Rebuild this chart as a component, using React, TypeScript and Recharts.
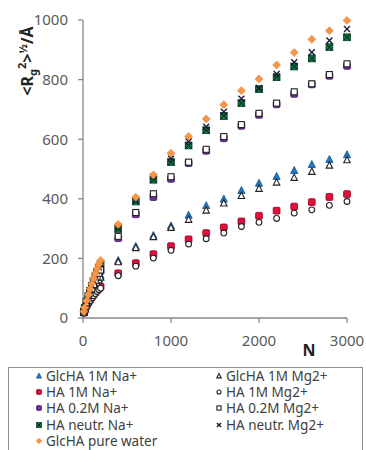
import React from "react";
import { ScatterChart, Scatter, XAxis, YAxis } from "recharts";

// chain length N (shared by every series)
const N_VALUES = [
  10, 20, 40, 60, 80, 100, 120, 140, 160, 180, 200,
  400, 600, 800, 1000, 1200, 1400, 1600, 1800, 2000, 2200, 2400, 2600, 2800, 3000,
];

const GLCHA_1M_NA = [20, 30, 47, 62, 76, 89, 101, 112, 123, 133, 142, 193, 240, 277, 309, 345, 377, 399, 428, 452, 475, 495, 515, 532, 548];
const GLCHA_1M_MG = [19, 29, 45, 59, 72, 85, 96, 107, 117, 127, 136, 188, 235, 272, 303, 330, 361, 385, 410, 434, 455, 471, 491, 512, 530];
const HA_1M_NA = [18, 26, 40, 51, 61, 70, 78, 86, 93, 99, 105, 150, 184, 214, 241, 264, 285, 304, 324, 343, 360, 374, 389, 406, 416];
const HA_1M_MG = [17, 25, 38, 49, 58, 67, 75, 82, 89, 95, 100, 142, 174, 201, 227, 248, 266, 285, 307, 321, 334, 352, 363, 378, 391];
const HA_02M_NA = [20, 31, 50, 67, 82, 96, 110, 123, 135, 147, 158, 268, 348, 406, 467, 520, 561, 603, 645, 682, 717, 752, 784, 813, 846];
const HA_02M_MG = [20, 32, 51, 68, 84, 98, 112, 125, 138, 150, 161, 274, 354, 417, 474, 523, 566, 609, 649, 687, 721, 759, 786, 817, 853];
const HA_NEUTR_NA = [21, 33, 54, 73, 91, 108, 124, 140, 155, 168, 181, 299, 391, 464, 523, 579, 630, 678, 721, 768, 808, 844, 871, 909, 942];
const HA_NEUTR_MG = [21, 33, 55, 74, 92, 109, 126, 142, 157, 170, 183, 307, 397, 475, 534, 592, 642, 692, 736, 772, 819, 858, 892, 931, 970];
const GLCHA_WATER = [22, 35, 58, 78, 97, 115, 133, 150, 166, 180, 193, 314, 405, 480, 553, 609, 668, 716, 763, 802, 849, 891, 935, 964, 998];

const X_TICKS = [0, 1000, 2000, 3000];
const Y_TICKS = [0, 200, 400, 600, 800, 1000];

const toPoints = (vals: number[]) => N_VALUES.map((n, i) => ({ n, v: vals[i] }));

type M = { cx: number; cy: number; s?: number };

const FilledTri = ({ cx, cy, s = 1 }: M) => {
  const r = 4 * s;
  return (
    <polygon
      points={`${cx},${cy - r} ${cx + r * 0.9},${cy + r * 0.75} ${cx - r * 0.9},${cy + r * 0.75}`}
      fill="#1f7bc8"
      stroke="#134d86"
      strokeWidth={0.8}
    />
  );
};
const OpenTri = ({ cx, cy, s = 1 }: M) => {
  const r = 3.6 * s;
  return (
    <polygon
      points={`${cx},${cy - r} ${cx + r * 0.9},${cy + r * 0.75} ${cx - r * 0.9},${cy + r * 0.75}`}
      fill="#fff"
      stroke="#222"
      strokeWidth={1.1}
    />
  );
};
const Square = ({ cx, cy, s = 1, fill, stroke }: M & { fill: string; stroke: string }) => {
  const r = 3.4 * s;
  return <rect x={cx - r} y={cy - r} width={2 * r} height={2 * r} rx={1.2 * s} fill={fill} stroke={stroke} strokeWidth={0.8} />;
};
const RedSq = (p: M) => <Square {...p} fill="#e0103a" stroke="#8b0020" />;
const PurpleSq = (p: M) => <Square {...p} fill="#7030a0" stroke="#3a1760" />;
const OpenSq = ({ cx, cy, s = 1 }: M) => {
  const r = 3 * s;
  return <rect x={cx - r} y={cy - r} width={2 * r} height={2 * r} fill="#fff" stroke="#222" strokeWidth={1.1} />;
};
const OpenCircle = ({ cx, cy, s = 1 }: M) => <circle cx={cx} cy={cy} r={2.9 * s} fill="#fff" stroke="#222" strokeWidth={1.1} />;
const GreenX = ({ cx, cy, s = 1 }: M) => {
  const r = 3.4 * s;
  return (
    <g>
      <rect x={cx - r} y={cy - r} width={2 * r} height={2 * r} fill="#0b7a46" stroke="#053b22" strokeWidth={0.8} />
      <path d={`M${cx - r},${cy - r}L${cx + r},${cy + r}M${cx + r},${cy - r}L${cx - r},${cy + r}`} stroke="#0a1a12" strokeWidth={1} />
    </g>
  );
};
const Cross = ({ cx, cy, s = 1 }: M) => {
  const r = 3 * s;
  return <path d={`M${cx - r},${cy - r}L${cx + r},${cy + r}M${cx + r},${cy - r}L${cx - r},${cy + r}`} stroke="#1b1b3a" strokeWidth={1.4} />;
};
const Diamond = ({ cx, cy, s = 1 }: M) => {
  const r = 4 * s;
  return <polygon points={`${cx},${cy - r} ${cx + r},${cy} ${cx},${cy + r} ${cx - r},${cy}`} fill="#f79646" stroke="#e9823a" strokeWidth={0.6} />;
};

// drawing order: filled ones first, open (Mg2+) markers over them, pure water last
const SERIES = [
  { name: "GlcHA 1M Na+", values: GLCHA_1M_NA, Mark: FilledTri },
  { name: "HA 1M Na+", values: HA_1M_NA, Mark: RedSq },
  { name: "HA 0.2M Na+", values: HA_02M_NA, Mark: PurpleSq },
  { name: "HA neutr. Na+", values: HA_NEUTR_NA, Mark: GreenX },
  { name: "GlcHA 1M Mg2+", values: GLCHA_1M_MG, Mark: OpenTri },
  { name: "HA 1M Mg2+", values: HA_1M_MG, Mark: OpenCircle },
  { name: "HA 0.2M Mg2+", values: HA_02M_MG, Mark: OpenSq },
  { name: "HA neutr. Mg2+", values: HA_NEUTR_MG, Mark: Cross },
  { name: "GlcHA pure water", values: GLCHA_WATER, Mark: Diamond },
];

const LEGEND_COL1 = ["GlcHA 1M Na+", "HA 1M Na+", "HA 0.2M Na+", "HA neutr. Na+", "GlcHA pure water"];
const LEGEND_COL2 = ["GlcHA 1M Mg2+", "HA 1M Mg2+", "HA 0.2M Mg2+", "HA neutr. Mg2+"];

const axisColor = "#888";
const tickStyle = { fill: "#595959", fontSize: 15, fontFamily: "Noto Sans" };

const YTitle = (props: any) => {
  const vb = props.viewBox;
  const x0 = vb.x + 10;
  const y0 = vb.y + 41;
  return (
    <text
      transform={`rotate(-90 ${x0} ${y0})`}
      x={x0}
      y={y0}
      textAnchor="middle"
      fontWeight="bold"
      fontSize={16}
      fontFamily="Noto Sans"
      fill="#222"
    >
      &lt;R
      <tspan dy={4} fontSize={11}>g</tspan>
      <tspan dy={-11} fontSize={11}>2</tspan>
      <tspan dy={7}>&gt;</tspan>
      <tspan dy={-6} fontSize={11}>½</tspan>
      <tspan dy={6}>/Å</tspan>
    </text>
  );
};

const XTitle = (props: any) => {
  const vb = props.viewBox;
  return (
    <text x={vb.x + vb.width - 38} y={vb.y + 38} textAnchor="middle" fontWeight="bold" fontSize={16} fontFamily="Noto Sans" fill="#222">
      N
    </text>
  );
};

function LegendItem({ name, left, top }: { name: string; left: number; top: number }) {
  const s = SERIES.find((x) => x.name === name)!;
  const Mark = s.Mark;
  return (
    <div style={{ position: "absolute", left, top, height: 17, display: "flex", alignItems: "center", whiteSpace: "nowrap" }}>
      <svg width={10} height={10} style={{ marginRight: 2 }}>
        <Mark cx={5} cy={5} s={0.7} />
      </svg>
      <span>{name}</span>
    </div>
  );
}

export default function App() {
  return (
    <div style={{ position: "absolute", left: 0, top: 0, width: 366, height: 450, fontFamily: "Noto Sans", overflow: "hidden" }}>
      <ScatterChart width={366} height={360} margin={{ top: 20, right: 19, bottom: 12, left: 23 }}>
        <XAxis
          type="number"
          dataKey="n"
          domain={[0, 3000]}
          ticks={X_TICKS}
          height={30}
          tickSize={5}
          tickMargin={12}
          stroke={axisColor}
          strokeWidth={1.3}
          tick={tickStyle}
          label={{ content: XTitle }}
        />
        <YAxis
          type="number"
          dataKey="v"
          domain={[0, 1000]}
          ticks={Y_TICKS}
          width={60}
          tickSize={5}
          tickMargin={10}
          stroke={axisColor}
          strokeWidth={1.3}
          tick={tickStyle}
          label={{ content: YTitle }}
        />
        {SERIES.map((s) => (
          <Scatter
            key={s.name}
            name={s.name}
            data={toPoints(s.values)}
            isAnimationActive={false}
            shape={(p: any) => <s.Mark cx={p.cx} cy={p.cy} />}
          />
        ))}
      </ScatterChart>
      <div
        style={{
          position: "absolute",
          left: 8,
          top: 367,
          width: 355,
          height: 95,
          border: "1px solid #8c8c8c",
          boxSizing: "border-box",
          fontSize: 13.5,
          color: "#404040",
        }}
      >
        {LEGEND_COL1.map((n, i) => (
          <LegendItem key={n} name={n} left={25} top={i * 16.4 - 1} />
        ))}
        {LEGEND_COL2.map((n, i) => (
          <LegendItem key={n} name={n} left={205} top={i * 16.4 - 1} />
        ))}
      </div>
    </div>
  );
}
